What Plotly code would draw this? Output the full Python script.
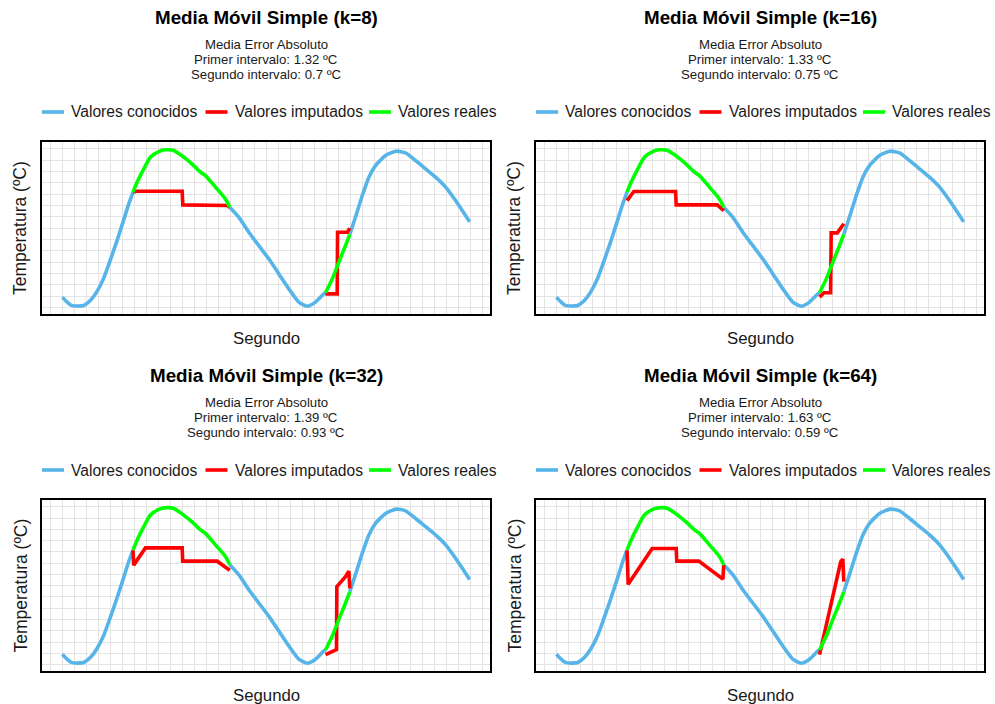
import plotly.graph_objects as go

# ---------------------------------------------------------------------------
# Data: temperature series (seconds, ºC)
# ---------------------------------------------------------------------------
# Known values, three stretches separated by the two missing intervals
known_a_s = [0, 4.2, 7.5, 12.5, 17.8, 23.3, 28.9, 34.4, 40.0, 45.6, 51.1, 55.3, 58.9]
known_a_t = [12.92, 12.46, 12.19, 12.13, 12.18, 12.62, 13.43, 14.58, 16.21, 17.93, 19.74, 21.15, 22.19]

known_b_s = [139.4, 146.9, 155.3, 163.6, 171.9, 180.3, 188.6, 196.9, 203.9, 210.8, 217.8, 219.2]
known_b_t = [20.86, 19.98, 18.65, 17.47, 16.30, 14.97, 13.65, 12.48, 12.12, 12.48, 13.21, 13.30]

known_c_s = [239.4, 244.2, 249.8, 255.3, 260.8, 269.2, 278.0, 285.8, 294.2, 302.5, 310.8, 319.2, 327.5, 339.2]
known_c_t = [18.46, 20.01, 21.89, 23.51, 24.53, 25.42, 25.80, 25.65, 24.97, 24.24, 23.51, 22.63, 21.44, 19.56]

# Real (hidden) values inside the two missing intervals
real_1_s = [58.9, 62.3, 67.8, 73.3, 80.3, 85.8, 92.8, 101.1, 109.4, 115.0, 119.2, 127.5, 135.8, 139.4]
real_1_t = [22.19, 23.07, 24.24, 25.27, 25.77, 25.92, 25.86, 25.27, 24.53, 23.95, 23.65, 22.63, 21.59, 20.86]
real_2_s = [219.2, 224.8, 230.3, 235.8, 239.4]
real_2_t = [13.30, 14.53, 16.01, 17.47, 18.46]

# Imputed values (simple moving average) for each window size k
window_k = [8, 16, 32, 64]

imp_1_s = {
    8:  [58.9, 61.7, 99.8, 100.3, 137.3, 139.4],
    16: [58.9, 64.5, 99.3, 99.8, 134.0, 139.4],
    32: [58.9, 59.4, 69.2, 99.8, 100.2, 128.9, 139.4],
    64: [58.9, 59.8, 79.8, 99.8, 100.3, 118.7, 138.7, 139.4],
}
imp_1_t = {
    8:  [22.19, 22.27, 22.27, 21.06, 21.00, 20.86],
    16: [21.44, 22.24, 22.24, 21.06, 21.06, 20.56],
    32: [22.15, 20.83, 22.36, 22.36, 21.18, 21.18, 20.38],
    64: [22.15, 19.12, 22.30, 22.30, 21.18, 21.18, 19.59, 20.83],
}
imp_2_s = {
    8:  [219.2, 228.9, 229.2, 237.3, 239.4],
    16: [219.2, 222.9, 228.4, 228.9, 234.0, 239.4],
    32: [219.2, 228.3, 228.6, 235.8, 238.6, 239.4],
    64: [219.2, 236.8, 238.6, 239.4],
}
imp_2_t = {
    8:  [13.21, 13.21, 18.65, 18.65, 19.01],
    16: [12.92, 13.30, 13.30, 18.59, 18.59, 19.39],
    32: [12.88, 13.32, 18.92, 19.80, 20.30, 18.77],
    64: [12.88, 21.13, 21.36, 19.36],
}

# Mean absolute error per interval
mae_first = ["1.32", "1.33", "1.39", "1.63"]
mae_second = ["0.7", "0.75", "0.93", "0.59"]

legend_labels = ["Valores conocidos", "Valores imputados", "Valores reales"]

# ---------------------------------------------------------------------------
# Styling
# ---------------------------------------------------------------------------
W, H = 995, 704
FONT = "Liberation Sans, Arial, sans-serif"
C_KNOWN = "#56B4E9"
C_IMP = "#FF0000"
C_REAL = "#00FF00"
LINE_W = 3.6
GRID = "#E4E4E4"

# Panel boxes in pixels: (left, top, width, height)
panels = [
    (42, 142, 448, 172),
    (536, 142, 448, 172),
    (42, 500, 448, 171),
    (536, 500, 448, 171),
]


def gg_range(values, frac=0.05):
    lo, hi = min(values), max(values)
    pad = (hi - lo) * frac
    return [lo - pad, hi + pad]


def px_x(px):
    return px / W


def px_y(py):
    return 1 - py / H


# Full known series with gaps left empty
known_s = known_a_s + [None] + known_b_s + [None] + known_c_s
known_t = known_a_t + [None] + known_b_t + [None] + known_c_t
real_s = real_1_s + [None] + real_2_s
real_t = real_1_t + [None] + real_2_t

all_s = known_a_s + known_b_s + known_c_s + real_1_s + real_2_s
all_t = known_a_t + known_b_t + known_c_t + real_1_t + real_2_t
x_rng = gg_range(all_s)
y_rng = gg_range(all_t)

fig = go.Figure()
annotations = []
shapes = []

for i, k in enumerate(window_k):
    n = "" if i == 0 else str(i + 1)
    xa, ya = "x" + n, "y" + n
    left, top, w, h = panels[i]

    fig.add_trace(go.Scatter(
        x=known_s, y=known_t, mode="lines", name=legend_labels[0],
        line=dict(color=C_KNOWN, width=LINE_W, shape="spline", smoothing=0.6),
        connectgaps=False, showlegend=False, xaxis=xa, yaxis=ya))
    fig.add_trace(go.Scatter(
        x=imp_1_s[k] + [None] + imp_2_s[k],
        y=imp_1_t[k] + [None] + imp_2_t[k],
        mode="lines", name=legend_labels[1],
        line=dict(color=C_IMP, width=LINE_W),
        connectgaps=False, showlegend=False, xaxis=xa, yaxis=ya))
    fig.add_trace(go.Scatter(
        x=real_s, y=real_t, mode="lines", name=legend_labels[2],
        line=dict(color=C_REAL, width=LINE_W, shape="spline", smoothing=0.6),
        connectgaps=False, showlegend=False, xaxis=xa, yaxis=ya))

    axis_common = dict(
        showticklabels=False, ticks="", showgrid=True, gridcolor=GRID, gridwidth=1.2,
        zeroline=False, showline=True, mirror=True, linecolor="black", linewidth=1.8,
    )
    fig.layout["xaxis" + n] = dict(
        domain=[px_x(left), px_x(left + w)], anchor=ya, range=x_rng,
        tick0=0, dtick=10, **axis_common)
    fig.layout["yaxis" + n] = dict(
        domain=[px_y(top + h), px_y(top)], anchor=xa, range=y_rng,
        tick0=0, dtick=1, **axis_common)

    cx = left + w / 2
    # Title and subtitle lines
    annotations.append(dict(
        text="<b>Media Móvil Simple (k=%d)</b>" % k, x=px_x(cx), y=px_y(top - 125),
        xref="paper", yref="paper", xanchor="center", yanchor="middle", showarrow=False,
        font=dict(family=FONT, size=18.8, color="black")))
    sub_lines = ["Media Error Absoluto",
                 "Primer intervalo: %s ºC" % mae_first[i],
                 "Segundo intervalo: %s ºC" % mae_second[i]]
    for j, line in enumerate(sub_lines):
        annotations.append(dict(
            text=line, x=px_x(cx), y=px_y(top - 98 + j * 15.2),
            xref="paper", yref="paper", xanchor="center", yanchor="middle", showarrow=False,
            borderpad=0, font=dict(family=FONT, size=13.2, color="#1a1a1a")))

    # Legend row
    ly = top - 30
    for j, (lab, col) in enumerate(zip(legend_labels, [C_KNOWN, C_IMP, C_REAL])):
        x0 = left + j * 163.5
        shapes.append(dict(type="line", xref="paper", yref="paper",
                           x0=px_x(x0), x1=px_x(x0 + 22), y0=px_y(ly), y1=px_y(ly),
                           line=dict(color=col, width=3.6)))
        annotations.append(dict(
            text=lab, x=px_x(x0 + 27), y=px_y(ly), xref="paper", yref="paper",
            xanchor="left", yanchor="middle", showarrow=False,
            font=dict(family=FONT, size=15.6, color="#1a1a1a")))

    # Axis titles
    annotations.append(dict(
        text="Segundo", x=px_x(cx), y=px_y(top + h + 24), xref="paper", yref="paper",
        xanchor="center", yanchor="middle", showarrow=False,
        font=dict(family=FONT, size=16.8, color="#1a1a1a")))
    annotations.append(dict(
        text="Temperatura (ºC)", x=px_x(left - 22), y=px_y(top + h / 2),
        xref="paper", yref="paper", xanchor="center", yanchor="middle", showarrow=False,
        textangle=-90, font=dict(family=FONT, size=17.5, color="#1a1a1a")))

fig.update_layout(
    width=W, height=H, margin=dict(l=0, r=0, t=0, b=0),
    paper_bgcolor="white", plot_bgcolor="white",
    showlegend=False, annotations=annotations, shapes=shapes,
    font=dict(family=FONT),
)

fig.write_html("out.html")
